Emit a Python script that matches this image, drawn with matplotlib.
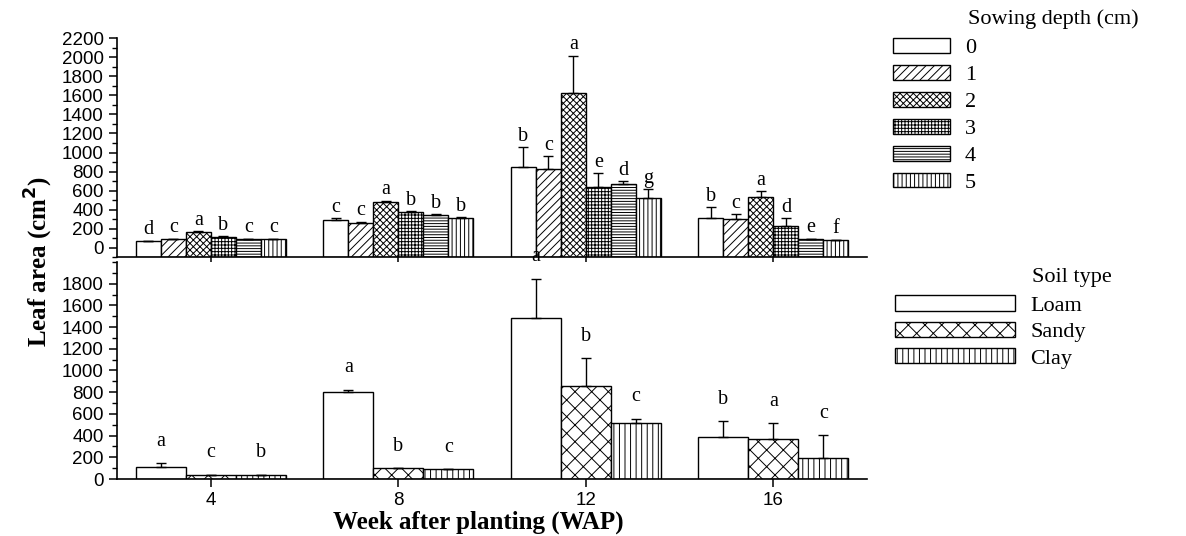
import numpy as np
import matplotlib
matplotlib.use('Agg')
import matplotlib.pyplot as plt
from matplotlib.patches import Patch

plt.rcParams['font.family'] = ['Liberation Sans', 'DejaVu Sans']
plt.rcParams['hatch.linewidth'] = 0.7

# semanas e dados
weeks = [4, 8, 12, 16]

# valores por profundidade de semeadura, uma lista por profundidade (4, 8, 12, 16 WAP)
depths = ['0', '1', '2', '3', '4', '5']
depth_0 = [73, 293, 848, 314]
depth_1 = [94, 262, 827, 304]
depth_2 = [168, 482, 1623, 534]
depth_3 = [115, 377, 639, 230]
depth_4 = [94, 346, 670, 94]
depth_5 = [94, 314, 524, 84]
depth_err_0 = [5, 20, 210, 115]
depth_err_1 = [4, 15, 135, 50]
depth_err_2 = [8, 15, 390, 60]
depth_err_3 = [5, 8, 146, 80]
depth_err_4 = [3, 6, 30, 3]
depth_err_5 = [3, 8, 94, 3]
depth_letters_0 = ['d', 'c', 'b', 'b']
depth_letters_1 = ['c', 'c', 'c', 'c']
depth_letters_2 = ['a', 'a', 'a', 'a']
depth_letters_3 = ['b', 'b', 'e', 'd']
depth_letters_4 = ['c', 'b', 'd', 'e']
depth_letters_5 = ['c', 'b', 'g', 'f']

# tipo de solo
soils = ['Loam', 'Sandy', 'Clay']
soil_loam = [110, 804, 1481, 384]
soil_sandy = [37, 100, 859, 366]
soil_clay = [38, 91, 512, 192]
soil_err_loam = [36, 20, 365, 146]
soil_err_sandy = [3, 2, 256, 146]
soil_err_clay = [3, 2, 45, 210]
soil_letters_loam = ['a', 'a', 'a', 'b']
soil_letters_sandy = ['c', 'b', 'b', 'a']
soil_letters_clay = ['b', 'c', 'c', 'c']

depth_series = [depth_0, depth_1, depth_2, depth_3, depth_4, depth_5]
depth_errs = [depth_err_0, depth_err_1, depth_err_2, depth_err_3, depth_err_4, depth_err_5]
depth_letters = [depth_letters_0, depth_letters_1, depth_letters_2,
                 depth_letters_3, depth_letters_4, depth_letters_5]
depth_hatch = ['', '////', 'xxxxx', '+++++', '------', '||||']

soil_series = [soil_loam, soil_sandy, soil_clay]
soil_errs = [soil_err_loam, soil_err_sandy, soil_err_clay]
soil_letters = [soil_letters_loam, soil_letters_sandy, soil_letters_clay]
soil_hatch = ['', 'xx', '|||']

serif = ['Liberation Serif', 'DejaVu Serif']

fig = plt.figure(figsize=(11.86, 5.36), dpi=100)
ax1 = fig.add_axes([0.0987, 0.5196, 0.6324, 0.4095])
ax2 = fig.add_axes([0.0987, 0.1063, 0.6324, 0.405])

x = np.array(weeks, dtype=float)


def draw_panel(ax, series, errs, letters, hatches, width, ymin, offset):
    n = len(series)
    handles = []
    for i in range(n):
        pos = x + (i - (n - 1) / 2) * width
        vals = np.array(series[i], dtype=float)
        ax.bar(pos, vals - ymin, width=width, bottom=ymin, color='white',
               edgecolor='black', linewidth=1.0, hatch=hatches[i], zorder=2)
        ax.errorbar(pos, vals, yerr=[np.zeros(len(vals)), errs[i]], fmt='none',
                    ecolor='black', elinewidth=1.0, capsize=3.5, capthick=1.0, zorder=3)
        for p, v, e, t in zip(pos, vals, errs[i], letters[i]):
            ax.text(p, v + e + offset, t, ha='center', va='center',
                    family=serif, fontsize=14.5)
        handles.append(Patch(facecolor='white', edgecolor='black',
                             hatch=hatches[i], linewidth=1.0))
    return handles


h1 = draw_panel(ax1, depth_series, depth_errs, depth_letters, depth_hatch,
                3.2 / 6, -100, 115)
h2 = draw_panel(ax2, soil_series, soil_errs, soil_letters, soil_hatch,
                3.2 / 3, 0, 200)

for ax in (ax1, ax2):
    ax.set_xlim(2, 18)
    ax.set_xticks(weeks)
    ax.spines['top'].set_visible(False)
    ax.spines['right'].set_visible(False)
    ax.spines['left'].set_linewidth(1.2)
    ax.spines['bottom'].set_linewidth(1.2)
    ax.tick_params(axis='both', direction='out', length=6, width=1.1, labelsize=13.5)
    ax.tick_params(axis='y', which='minor', direction='out', length=3.5, width=1.0)

ax1.set_ylim(-100, 2200)
ax1.set_yticks(np.arange(0, 2201, 200))
ax1.set_yticks(np.arange(-100, 2201, 100), minor=True)
ax1.tick_params(axis='x', labelbottom=False)

ax2.set_ylim(0, 2000)
ax2.set_yticks(np.arange(0, 1801, 200))
ax2.set_yticks(np.arange(0, 2001, 100), minor=True)

fig.text(0.033, 0.512, 'Leaf area (cm$^{\\mathbf{2}}$)', rotation=90, ha='center', va='center',
         family=serif, fontweight='bold', fontsize=18)
fig.text(0.403, 0.026, 'Week after planting (WAP)', ha='center', va='center',
         family=serif, fontweight='bold', fontsize=18)

# legendas
fig.text(0.816, 0.965, 'Sowing depth (cm)', ha='left', va='center', family=serif, fontsize=16)
fig.legend(h1, depths, loc='upper left', bbox_to_anchor=(0.7526, 0.929),
           frameon=False, prop={'family': serif, 'size': 16},
           handlelength=2.57, handleheight=0.63, labelspacing=0.31,
           handletextpad=0.68, borderpad=0, borderaxespad=0)
fig.text(0.870, 0.483, 'Soil type', ha='left', va='center', family=serif, fontsize=16)
fig.legend(h2, soils, loc='upper left', bbox_to_anchor=(0.7546, 0.449),
           frameon=False, prop={'family': serif, 'size': 16},
           handlelength=5.4, handleheight=0.68, labelspacing=0.27,
           handletextpad=0.68, borderpad=0, borderaxespad=0)

fig.savefig('out.png', dpi=100)
